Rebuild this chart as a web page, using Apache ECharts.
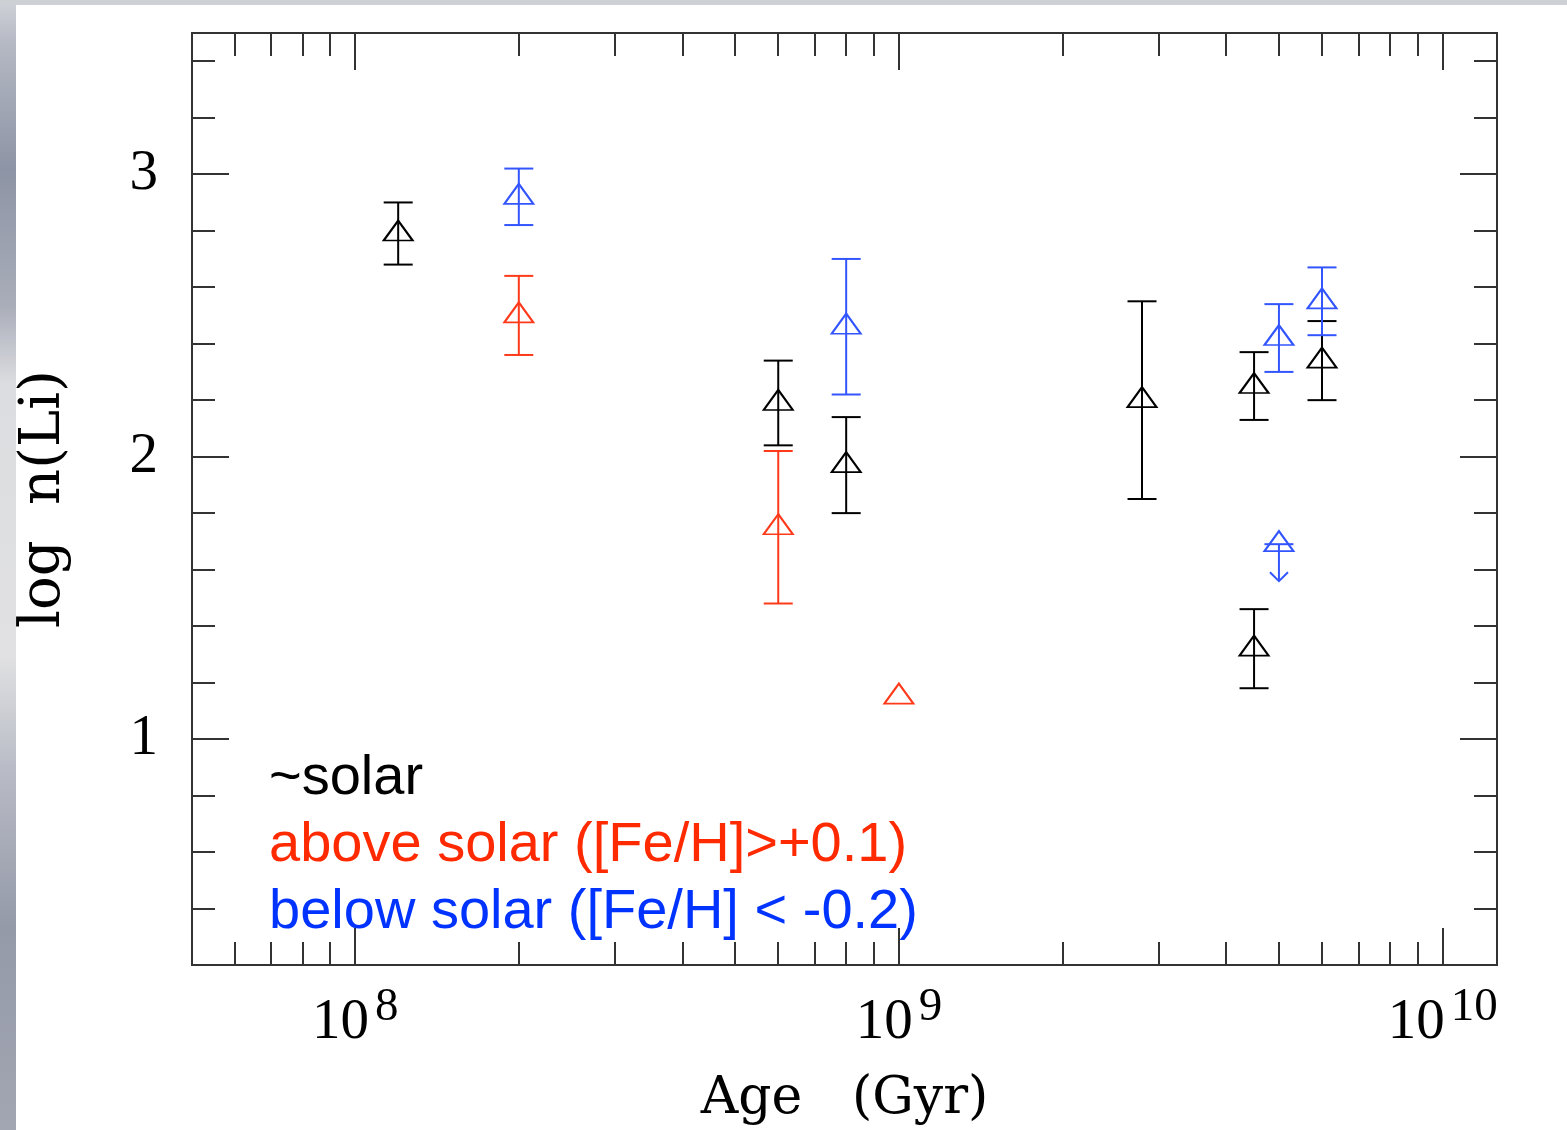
<!DOCTYPE html>
<html>
<head>
<meta charset="utf-8">
<title>log n(Li) vs Age</title>
<script src="https://cdn.jsdelivr.net/npm/echarts@6/dist/echarts.min.js"></script>
<style>
  html, body { margin: 0; padding: 0; background: #ffffff; }
  #chart { width: 1567px; height: 1130px; }
</style>
</head>
<body>
<div id="chart"></div>
<script>
// Lithium abundance against stellar age, grouped by metallicity.

// ~solar metallicity
const solarAge = [1.2e8, 6e8, 8e8, 2.8e9, 4.5e9, 4.5e9, 6e9];
const solarLi  = [2.79, 2.19, 1.97, 2.20, 2.25, 1.32, 2.34];
const solarErr = [0.11, 0.15, 0.17, 0.35, 0.12, 0.14, 0.14];

// above solar ([Fe/H] > +0.1)
const aboveAge = [2e8, 6e8, 1e9];
const aboveLi  = [2.50, 1.75, 1.15];
const aboveErr = [0.14, 0.27, null];

// below solar ([Fe/H] < -0.2); one star is an upper limit
const belowAge   = [2e8, 8e8, 5e9, 5e9, 6e9];
const belowLi    = [2.92, 2.46, 2.42, 1.69, 2.55];
const belowErr   = [0.10, 0.24, 0.12, null, 0.12];
const belowLimit = [0, 0, 0, 1, 0];

const groupNames = ['~solar', 'above solar ([Fe/H]>+0.1)', 'below solar ([Fe/H] < -0.2)'];

// Axis ranges and tick positions
const ageMin = Math.pow(10, 7.7);
const ageMax = Math.pow(10, 10.1);
const liMin = 0.2;
const liMax = 3.5;
const ageMajorTicks = [1e8, 1e9, 1e10];
const ageMinorTicks = [6e7, 7e7, 8e7, 9e7, 2e8, 3e8, 4e8, 5e8, 6e8, 7e8, 8e8, 9e8,
                       2e9, 3e9, 4e9, 5e9, 6e9, 7e9, 8e9, 9e9];
const liMajorTicks = [1, 2, 3];
const liMinorTicks = [0.4, 0.6, 0.8, 1.2, 1.4, 1.6, 1.8, 2.2, 2.4, 2.6, 2.8, 3.2, 3.4];

const COLORS = { solar: '#000000', above: '#ff3a1a', below: '#3355ff' };
const TEXT_COLORS = ['#000000', '#ff2a00', '#0033ff'];
const FRAME = '#333333';
const NUM_FONT = '"Liberation Serif", "Times New Roman", serif';
const TITLE_FONT = '"DejaVu Serif", "Liberation Serif", serif';

function points(age, li) {
  return age.map((a, i) => [a, li[i]]);
}

function errorRows(age, li, err, limit) {
  const rows = [];
  age.forEach((a, i) => {
    const isLimit = limit ? limit[i] : 0;
    if (err[i] != null || isLimit) rows.push([a, li[i], err[i] || 0, isLimit]);
  });
  return rows;
}

// Vertical error bar with caps; upper limits get a bar and a downward arrow.
function errorBarRenderer(color) {
  return function (params, api) {
    const x = api.value(0), y = api.value(1), e = api.value(2), lim = api.value(3);
    const half = 14.5;
    const style = { stroke: color, lineWidth: 2, fill: null };
    const c = api.coord([x, y]);
    if (lim) {
      const tip = c[1] + 37;
      return {
        type: 'group',
        children: [
          { type: 'line', shape: { x1: c[0] - half, y1: c[1], x2: c[0] + half, y2: c[1] }, style: style },
          { type: 'line', shape: { x1: c[0], y1: c[1], x2: c[0], y2: tip }, style: style },
          { type: 'polyline', shape: { points: [[c[0] - 9, tip - 9], [c[0], tip], [c[0] + 9, tip - 9]] }, style: style }
        ]
      };
    }
    const top = api.coord([x, y + e]);
    const bot = api.coord([x, y - e]);
    return {
      type: 'group',
      children: [
        { type: 'line', shape: { x1: top[0], y1: top[1], x2: bot[0], y2: bot[1] }, style: style },
        { type: 'line', shape: { x1: top[0] - half, y1: top[1], x2: top[0] + half, y2: top[1] }, style: style },
        { type: 'line', shape: { x1: bot[0] - half, y1: bot[1], x2: bot[0] + half, y2: bot[1] }, style: style }
      ]
    };
  };
}

function errorSeries(name, color, rows) {
  return {
    name: name,
    type: 'custom',
    coordinateSystem: 'cartesian2d',
    renderItem: errorBarRenderer(color),
    data: rows,
    encode: { x: 0, y: 1 },
    silent: true,
    z: 3
  };
}

function triangleSeries(name, color, data) {
  return {
    name: name,
    type: 'scatter',
    data: data,
    symbol: 'triangle',
    symbolSize: [29, 20],
    symbolOffset: [0, -3],
    itemStyle: { color: 'rgba(0,0,0,0)', borderColor: color, borderWidth: 2, opacity: 1 },
    emphasis: { disabled: true },
    silent: true,
    z: 4
  };
}

function ageAxis(position, ticks, len, labelled) {
  return {
    type: 'log',
    logBase: 10,
    position: position,
    min: ageMin,
    max: ageMax,
    axisLine: { show: false },
    splitLine: { show: false },
    axisTick: { show: true, inside: true, length: len, customValues: ticks,
                lineStyle: { color: FRAME, width: 2 } },
    axisLabel: labelled ? {
      show: true,
      customValues: ageMajorTicks,
      margin: 30,
      formatter: v => '{b|10}{s|' + Math.round(Math.log10(v)) + '}',
      rich: {
        b: { fontFamily: NUM_FONT, fontSize: 57, lineHeight: 57, color: '#000' },
        s: { fontFamily: NUM_FONT, fontSize: 47, height: 26, verticalAlign: 'top',
             color: '#000', padding: [0, 0, 0, 6] }
      }
    } : { show: false }
  };
}

function liAxis(position, ticks, len, labelled) {
  return {
    type: 'value',
    position: position,
    min: liMin,
    max: liMax,
    axisLine: { show: false },
    splitLine: { show: false },
    axisTick: { show: true, inside: true, length: len, customValues: ticks,
                lineStyle: { color: FRAME, width: 2 } },
    axisLabel: labelled ? {
      show: true,
      customValues: liMajorTicks,
      margin: 34,
      fontFamily: NUM_FONT,
      fontSize: 57,
      color: '#000'
    } : { show: false }
  };
}

const xBottom = ageAxis('bottom', ageMajorTicks, 37, true);
xBottom.name = 'Age   (Gyr)';
xBottom.nameLocation = 'middle';
xBottom.nameGap = 108;
xBottom.nameTextStyle = { fontFamily: TITLE_FONT, fontSize: 52, color: '#000' };

const yLeft = liAxis('left', liMajorTicks, 37, true);
yLeft.name = 'log  n(Li)';
yLeft.nameLocation = 'middle';
yLeft.nameGap = 120;
yLeft.nameTextStyle = { fontFamily: TITLE_FONT, fontSize: 56, color: '#000' };

const chart = echarts.init(document.getElementById('chart'), null, { renderer: 'canvas' });

chart.setOption({
  backgroundColor: '#ffffff',
  animation: false,
  graphic: [
    {
      type: 'rect', left: 0, top: 0, z: -10, silent: true,
      shape: { width: 16, height: 1130 },
      style: {
        fill: new echarts.graphic.LinearGradient(0, 0, 0, 1, [
          { offset: 0.00, color: '#d0d2d8' },
          { offset: 0.04, color: '#b4b8c3' },
          { offset: 0.15, color: '#8d94a5' },
          { offset: 0.27, color: '#a9adb9' },
          { offset: 0.34, color: '#dcdde0' },
          { offset: 0.58, color: '#e1e1e3' },
          { offset: 0.68, color: '#b9bcc6' },
          { offset: 0.82, color: '#959aa9' },
          { offset: 1.00, color: '#a2a6b2' }
        ])
      }
    },
    {
      type: 'rect', left: 0, top: 0, z: -10, silent: true,
      shape: { width: 1567, height: 5 },
      style: { fill: '#cdd0d5' }
    }
  ],
  grid: {
    left: 192, right: 70, top: 33, bottom: 164,
    show: true, borderColor: FRAME, borderWidth: 2, backgroundColor: 'rgba(0,0,0,0)',
    containLabel: false
  },
  legend: {
    orient: 'vertical',
    left: 259,
    top: 740,
    icon: 'none',
    itemWidth: 0,
    itemHeight: 0,
    itemGap: 0,
    selectedMode: false,
    textStyle: { fontFamily: '"Liberation Sans", Arial, sans-serif', fontSize: 56, lineHeight: 67 },
    data: groupNames.map((n, i) => ({ name: n, textStyle: { color: TEXT_COLORS[i] } }))
  },
  xAxis: [
    xBottom,
    ageAxis('bottom', ageMinorTicks, 23, false),
    ageAxis('top', ageMajorTicks, 37, false),
    ageAxis('top', ageMinorTicks, 23, false)
  ],
  yAxis: [
    yLeft,
    liAxis('left', liMinorTicks, 23, false),
    liAxis('right', liMajorTicks, 37, false),
    liAxis('right', liMinorTicks, 23, false)
  ],
  series: [
    errorSeries(groupNames[0], COLORS.solar, errorRows(solarAge, solarLi, solarErr)),
    triangleSeries(groupNames[0], COLORS.solar, points(solarAge, solarLi)),
    errorSeries(groupNames[1], COLORS.above, errorRows(aboveAge, aboveLi, aboveErr)),
    triangleSeries(groupNames[1], COLORS.above, points(aboveAge, aboveLi)),
    errorSeries(groupNames[2], COLORS.below, errorRows(belowAge, belowLi, belowErr, belowLimit)),
    triangleSeries(groupNames[2], COLORS.below, points(belowAge, belowLi))
  ]
});
</script>
</body>
</html>
